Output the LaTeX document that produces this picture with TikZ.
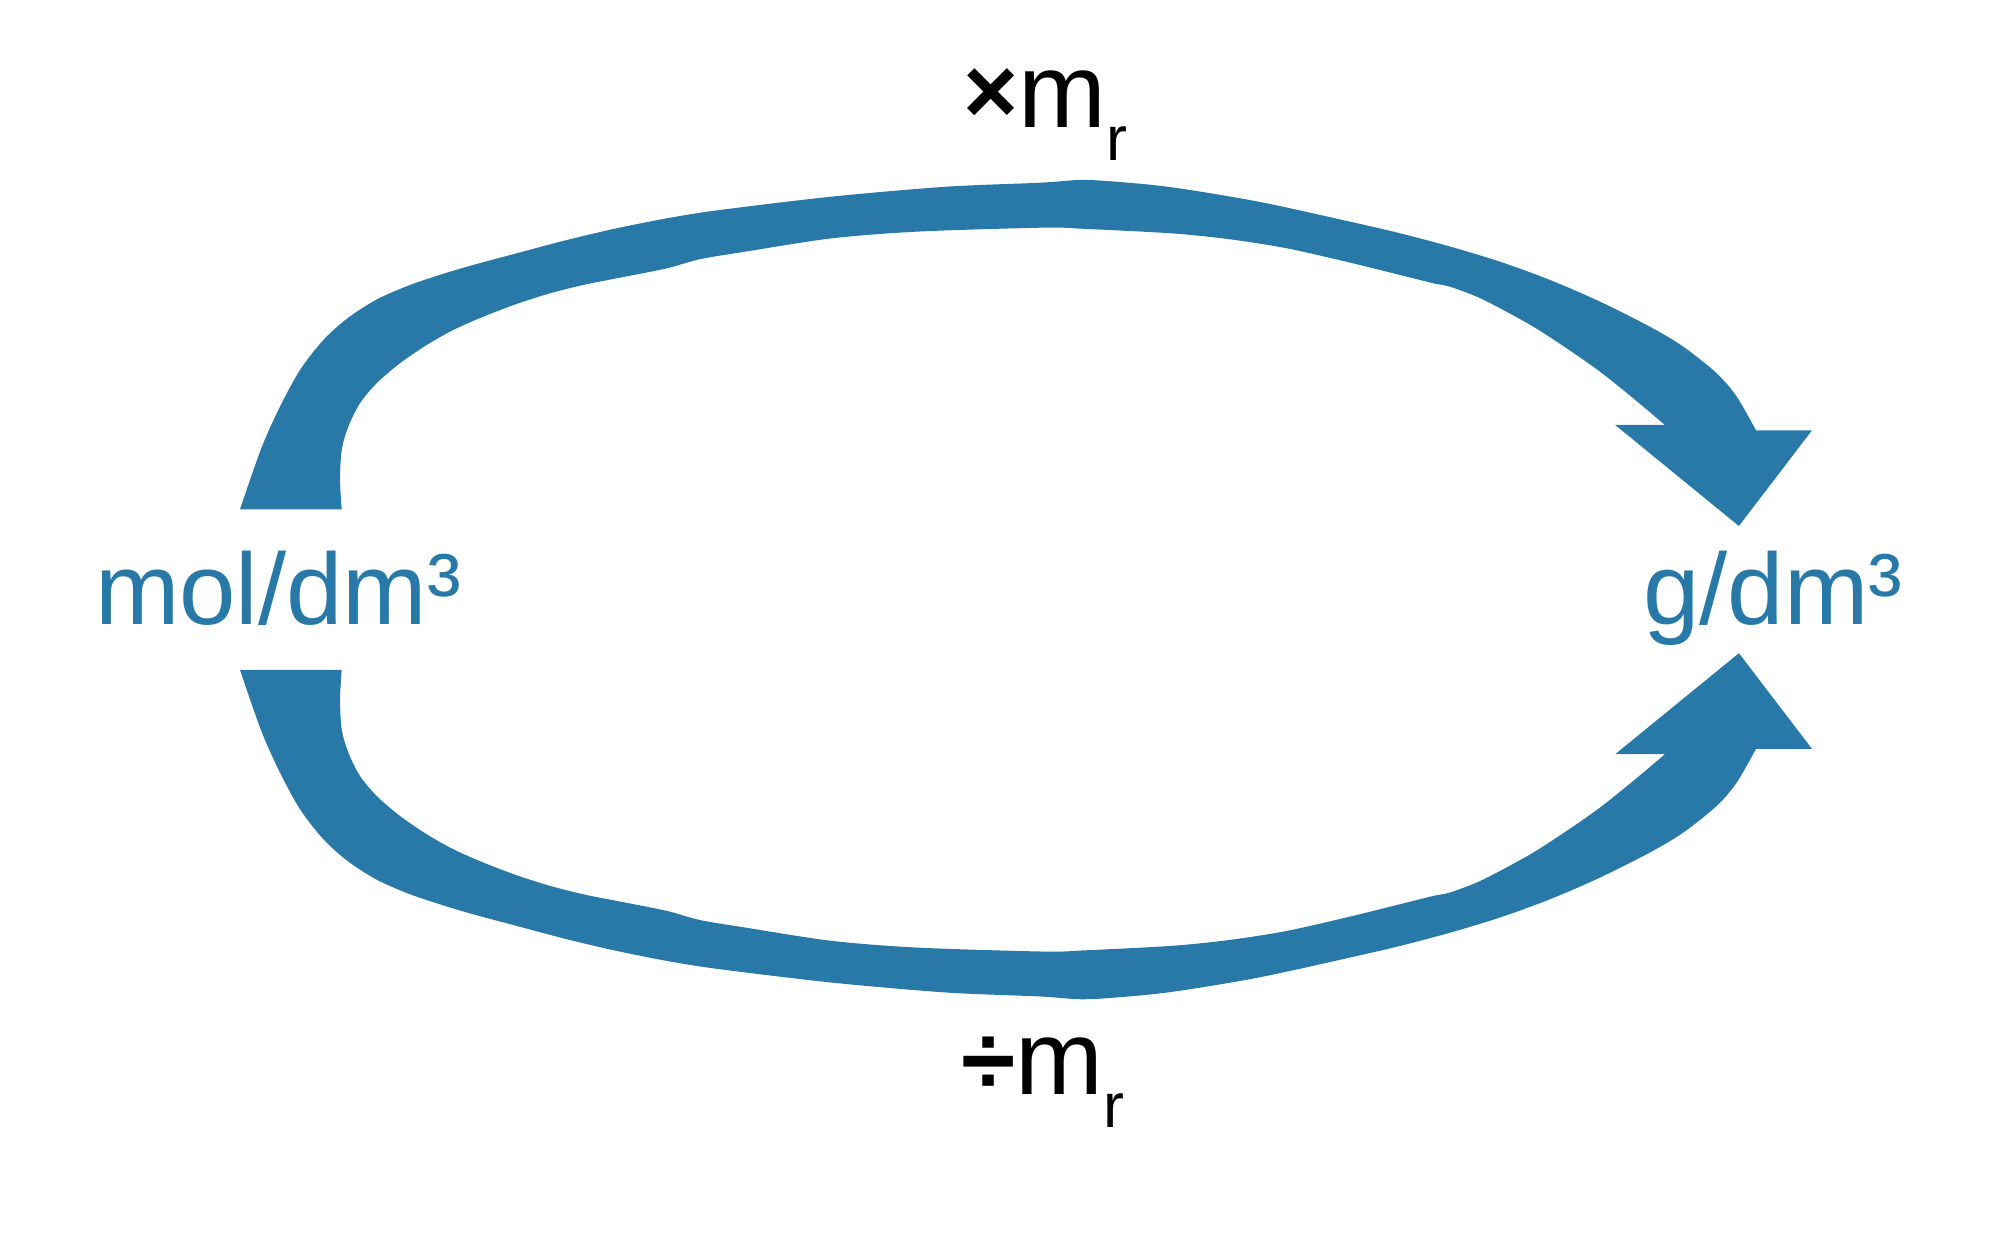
\documentclass[tikz,border=0pt]{standalone}
\usepackage{fontspec}
\setmainfont{Liberation Sans}
\definecolor{arrowblue}{RGB}{40,120,168}
\newcommand{\myArrowShape}{%
  plot[smooth, tension=0.5] coordinates {(188.2,399.3) (196,376.3) (206.4,347.6) (219.5,318.8) (235.2,290.1) (253.5,266.6) (272.5,249.5) (295,235) (320,224) (345,215.5) (370,208) (405.1,198.6) (444.3,188.2) (483.5,179) (522.7,171.2) (561.8,165) (651.9,154.2) (741.9,146.4) (815,143.3) (847,141.1) (874,142.4) (919,146.9) (986.5,158.1) (1058.4,173.8) (1097.6,182.9) (1136.8,193.3) (1176,205.2) (1215.2,219.5) (1254.4,236.5) (1293.6,256.2) (1319.7,271.8) (1345.9,292.7) (1361.6,311) (1376.7,337.4)}
  -- (1420.6,337.4) -- (1363.3,412.4) -- (1266.3,333.2) -- (1305.3,333.2)
  -- plot[smooth, tension=0.5] coordinates {(1305.3,333.2) (1280.5,312.3) (1254.4,291.4) (1228.3,273.1) (1202.1,256.1) (1176,241.7) (1157.7,232.6) (1136.8,224.8) (1123.7,222.1) (1097.6,215.6) (1058.4,205.9) (1009,194.7) (964,187.6) (919,183) (851.5,179.5) (818.4,178.5) (719.4,181.6) (651.9,186.9) (584.4,197.3) (548.8,203.2) (522.7,210.4) (483.5,218.2) (457.3,223.4) (431.2,230) (405.1,238.3) (378.9,248.3) (355.4,258.7) (334.5,270.5) (313.6,284.8) (295.3,300.5) (282.2,316.2) (273.1,334.5) (267.9,352.8) (266.6,376.3) (267.9,399.3)}
  -- cycle}
\tikzset{
  flowarrow/.style={fill=arrowblue, draw=none},
  unitlabel/.style={text=arrowblue, inner sep=0pt, anchor=base, font=\fontsize{22.6}{27}\selectfont},
  oplabel/.style={text=black, inner sep=0pt, anchor=base west, font=\fontsize{23.5}{27}\selectfont},
}
\begin{document}
\begin{tikzpicture}[x=0.01cm, y=-0.01cm]
  \useasboundingbox (0,0) rectangle (1568,971);
  \fill[flowarrow] \myArrowShape;
  \begin{scope}[yshift=-9.24cm, yscale=-1]
    \fill[flowarrow] \myArrowShape;
  \end{scope}
  \node[unitlabel] (mol) at (218,490) {mol/dm³};
  \node[unitlabel] (g) at (1390,490) {g/dm³};
  \node[oplabel] (times) at (755,100) {\raisebox{1pt}{\fontsize{21}{27}\selectfont\bfseries ×}m\raisebox{-7.4pt}{\fontsize{14}{14}\selectfont r}};
  \node[oplabel] (divide) at (753,858) {{\fontsize{22}{27}\selectfont\bfseries ÷}m\raisebox{-7.4pt}{\fontsize{14}{14}\selectfont r}};
\end{tikzpicture}
\end{document}
